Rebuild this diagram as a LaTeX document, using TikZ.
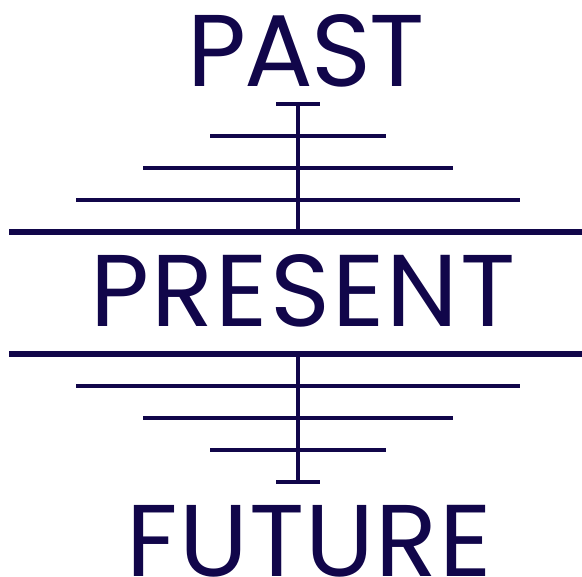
\documentclass[tikz,border=0pt]{standalone}
\usepackage{fontspec}
\setmainfont{Poppins}
\definecolor{cnavy}{RGB}{17,6,74}
\tikzset{
  timeln/.style={x=1pt,y=-1pt,cnavy,line width=4pt},
  word/.style={font=\fontsize{102}{102}\selectfont,text=cnavy,inner sep=0pt,anchor=base},
  mainln/.style={line width=6pt}
}

\begin{document}
\begin{tikzpicture}[timeln]
    \useasboundingbox (0,0) rectangle (582,577);
    % words
    \node[word] (past)    at (306,87)  {\addfontfeatures{LetterSpace=-2}PAST};
    \node[word] (present) at (303,327) {\addfontfeatures{LetterSpace=2.2}PRESENT};
    \node[word] (future)  at (309,577) {\addfontfeatures{LetterSpace=1.3}FUTURE};
    % main lines round the present
    \draw[mainln] (9,232) -- (582,232);
    \draw[mainln] (9,354) -- (582,354);
    % shorter lines, above and below
    \foreach \d/\w in {32/222,64/155,96/88} {
      \draw ({298-\w},{232-\d}) -- ({298+\w},{232-\d});
      \draw ({298-\w},{354+\d}) -- ({298+\w},{354+\d});
    }
    % axis with end caps
    \coordinate (ptop) at (298,104);
    \coordinate (pbot) at (298,482);
    \draw (ptop) -- (298,232);
    \draw (298,354) -- (pbot);
    \draw ([xshift=-22pt]ptop) -- ([xshift=22pt]ptop);
    \draw ([xshift=-22pt]pbot) -- ([xshift=22pt]pbot);
\end{tikzpicture}
\end{document}
